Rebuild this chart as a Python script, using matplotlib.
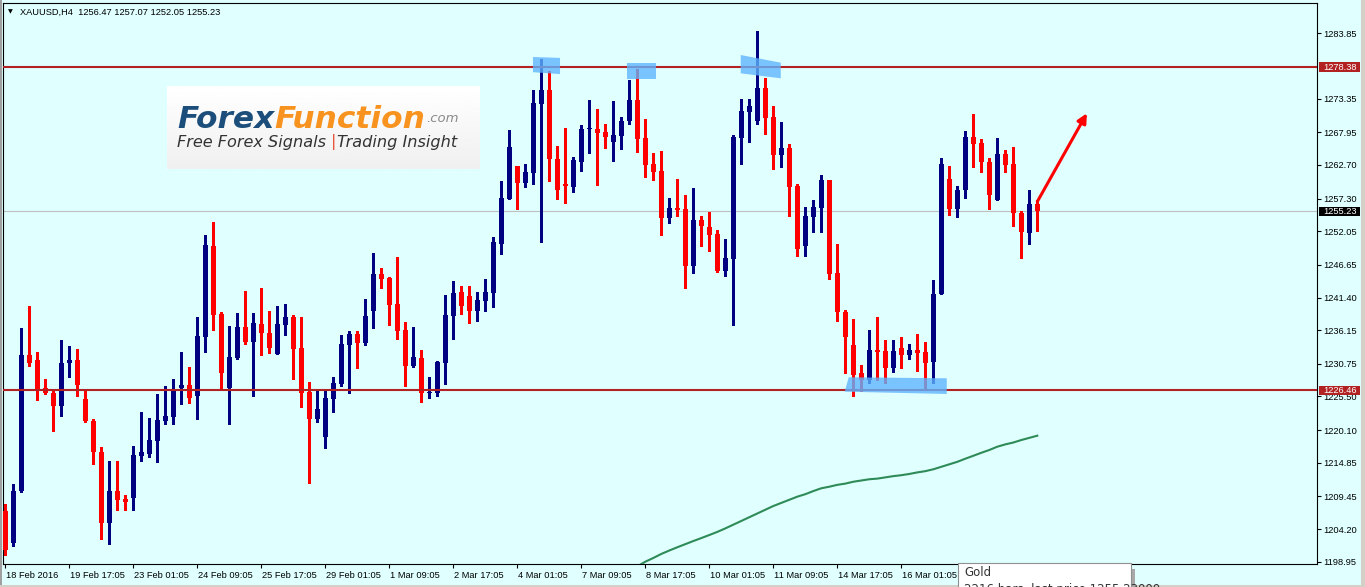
import numpy as np
import matplotlib.pyplot as plt
from matplotlib.patches import Rectangle, Polygon
from matplotlib import transforms as mtransforms

# =====================================================
# Data: XAUUSD H4 bars
# =====================================================
opens = [1207.1, 1202.0, 1210.3, 1232.2, 1231.4, 1226.9, 1226.1, 1223.9, 1230.8, 1231.4,
         1225.1, 1221.6, 1216.6, 1205.1, 1210.3, 1209.1, 1209.2, 1216.0, 1216.3, 1218.4,
         1221.6, 1222.2, 1226.9, 1227.3, 1225.5, 1235.1, 1249.7, 1238.8, 1226.9, 1231.7,
         1236.7, 1234.2, 1237.1, 1235.7, 1232.3, 1237.0, 1238.3, 1233.3, 1226.2, 1221.9,
         1219.0, 1225.1, 1227.5, 1233.8, 1235.5, 1234.1, 1239.2, 1245.2, 1244.5, 1240.4,
         1236.2, 1230.4, 1231.7, 1226.1, 1226.1, 1230.9, 1238.4, 1242.3, 1241.6, 1239.2,
         1240.8, 1242.1, 1250.0, 1257.2, 1262.5, 1259.8, 1261.4, 1272.5, 1274.7, 1263.7,
         1259.6, 1259.2, 1263.2, 1268.4, 1268.5, 1268.0, 1266.4, 1267.4, 1269.8, 1273.1,
         1267.0, 1262.9, 1261.7, 1254.1, 1255.8, 1255.6, 1246.4, 1253.9, 1252.7, 1251.6,
         1245.7, 1247.6, 1267.1, 1271.2, 1269.8, 1275.1, 1270.4, 1264.3, 1265.4, 1259.3,
         1249.7, 1254.4, 1255.8, 1260.3, 1245.3, 1239.1, 1233.8, 1229.3, 1228.2, 1233.0,
         1232.8, 1230.0, 1233.3, 1232.2, 1233.0, 1232.7, 1231.1, 1241.9, 1260.4, 1255.7,
         1258.6, 1267.2, 1266.2, 1263.2, 1257.0, 1264.5, 1262.9, 1255.0, 1251.8, 1256.47]
highs = [1208.2, 1211.4, 1236.5, 1240.0, 1232.7, 1228.3, 1226.4, 1234.6, 1233.6, 1233.1,
         1226.5, 1221.9, 1217.4, 1215.1, 1215.1, 1209.7, 1217.5, 1223.0, 1222.0, 1225.9,
         1227.2, 1228.3, 1232.6, 1230.2, 1238.3, 1251.4, 1253.5, 1239.0, 1236.8, 1238.9,
         1242.4, 1238.9, 1242.9, 1239.2, 1240.0, 1240.4, 1238.6, 1238.3, 1227.8, 1226.5,
         1226.7, 1228.6, 1235.4, 1236.0, 1236.0, 1241.2, 1248.6, 1246.1, 1244.7, 1247.9,
         1237.5, 1236.7, 1233.0, 1228.6, 1231.2, 1241.8, 1244.1, 1243.2, 1243.2, 1242.3,
         1244.4, 1251.1, 1260.1, 1268.3, 1262.5, 1262.9, 1274.7, 1279.7, 1277.8, 1265.7,
         1268.6, 1264.0, 1269.1, 1273.1, 1271.7, 1269.3, 1273.0, 1270.4, 1276.3, 1278.1,
         1270.1, 1264.6, 1264.9, 1257.4, 1260.4, 1257.9, 1259.0, 1254.5, 1255.1, 1252.3,
         1250.8, 1267.5, 1273.3, 1273.3, 1284.2, 1276.7, 1272.2, 1269.6, 1266.1, 1259.6,
         1255.9, 1257.1, 1261.1, 1260.3, 1250.0, 1239.4, 1238.0, 1230.6, 1236.2, 1238.2,
         1234.6, 1234.5, 1235.1, 1234.0, 1235.6, 1234.3, 1244.2, 1263.8, 1262.5, 1259.3,
         1268.2, 1270.9, 1266.9, 1263.8, 1267.0, 1265.1, 1265.6, 1255.3, 1258.7, 1257.07]
lows = [1200.0, 1201.4, 1210.2, 1230.4, 1224.9, 1225.9, 1220.0, 1222.4, 1228.7, 1225.5,
        1221.4, 1214.7, 1202.6, 1201.8, 1207.3, 1207.3, 1207.2, 1215.2, 1215.7, 1214.9,
        1221.0, 1221.1, 1224.3, 1224.5, 1221.8, 1232.7, 1236.1, 1226.9, 1221.1, 1231.5,
        1233.9, 1225.6, 1232.2, 1232.5, 1232.3, 1235.4, 1228.3, 1223.8, 1211.6, 1221.4,
        1217.2, 1223.0, 1227.2, 1226.1, 1230.1, 1233.8, 1236.5, 1242.9, 1237.0, 1234.7,
        1227.2, 1230.2, 1224.6, 1225.3, 1225.6, 1227.5, 1234.7, 1238.8, 1237.3, 1237.6,
        1239.2, 1239.9, 1248.4, 1257.2, 1255.6, 1259.2, 1259.6, 1250.3, 1260.1, 1257.2,
        1256.6, 1258.4, 1261.7, 1264.6, 1259.4, 1265.5, 1263.4, 1265.3, 1269.3, 1264.8,
        1260.8, 1260.2, 1251.5, 1253.4, 1254.5, 1243.0, 1245.4, 1249.7, 1248.9, 1245.5,
        1244.9, 1237.0, 1262.9, 1266.4, 1269.2, 1267.6, 1262.1, 1262.3, 1254.5, 1248.1,
        1248.0, 1252.0, 1252.0, 1244.4, 1237.7, 1229.3, 1225.6, 1226.3, 1227.7, 1228.2,
        1227.6, 1229.5, 1230.0, 1231.6, 1229.6, 1226.6, 1227.7, 1241.9, 1254.7, 1254.4,
        1257.4, 1262.3, 1261.5, 1255.7, 1257.0, 1261.5, 1252.9, 1247.8, 1250.0, 1252.05]
closes = [1200.8, 1210.3, 1232.2, 1230.8, 1226.7, 1226.0, 1223.9, 1230.9, 1231.4, 1227.4,
          1221.6, 1216.5, 1205.1, 1210.3, 1208.9, 1208.6, 1216.1, 1216.5, 1218.5, 1221.7,
          1222.4, 1226.5, 1227.3, 1225.3, 1235.2, 1249.8, 1238.6, 1229.3, 1231.8, 1236.7,
          1234.2, 1237.3, 1235.7, 1233.3, 1237.1, 1238.3, 1233.1, 1226.1, 1221.9, 1223.5,
          1225.2, 1227.7, 1233.9, 1235.5, 1234.1, 1238.4, 1245.2, 1244.4, 1240.2, 1236.0,
          1230.4, 1231.8, 1226.1, 1226.2, 1231.0, 1238.6, 1242.1, 1240.0, 1239.2, 1241.0,
          1242.3, 1250.3, 1257.4, 1265.6, 1259.8, 1261.6, 1272.7, 1274.7, 1263.7, 1258.7,
          1259.3, 1263.5, 1268.5, 1268.5, 1267.9, 1267.2, 1267.5, 1269.8, 1273.1, 1266.9,
          1262.7, 1261.6, 1254.1, 1255.8, 1255.5, 1246.4, 1253.9, 1252.9, 1251.5, 1245.7,
          1247.7, 1267.2, 1271.4, 1272.2, 1275.1, 1270.3, 1264.3, 1265.4, 1259.2, 1249.2,
          1254.5, 1255.9, 1260.3, 1245.2, 1239.0, 1235.1, 1229.0, 1228.2, 1233.0, 1232.7,
          1230.0, 1232.8, 1232.2, 1233.0, 1232.5, 1230.9, 1242.0, 1262.9, 1255.7, 1258.7,
          1267.2, 1266.1, 1263.1, 1257.9, 1264.5, 1262.7, 1254.9, 1252.0, 1256.4, 1255.23]

# moving average (green line), starts at bar 79
ma_start = 79
ma_values = [1198.2, 1198.95, 1199.55, 1200.2, 1200.75, 1201.27, 1201.77, 1202.27, 1202.75,
             1203.24, 1203.74, 1204.3, 1204.9, 1205.5, 1206.1, 1206.7, 1207.3, 1207.9,
             1208.4, 1208.9, 1209.4, 1209.8, 1210.3, 1210.75, 1211.0, 1211.3, 1211.5,
             1211.8, 1212.0, 1212.2, 1212.3, 1212.5, 1212.7, 1212.85, 1213.05, 1213.3,
             1213.5, 1213.8, 1214.2, 1214.6, 1215.0, 1215.5, 1215.97, 1216.45, 1216.9,
             1217.43, 1217.8, 1218.1, 1218.5, 1218.85, 1219.2]

time_tick_bars = [0, 8, 16, 24, 32, 40, 48, 56, 64, 72, 80, 88, 96, 104, 112]
time_tick_labels = ["18 Feb 2016", "19 Feb 17:05", "23 Feb 01:05", "24 Feb 09:05",
                    "25 Feb 17:05", "29 Feb 01:05", "1 Mar 09:05", "2 Mar 17:05",
                    "4 Mar 01:05", "7 Mar 09:05", "8 Mar 17:05", "10 Mar 01:05",
                    "11 Mar 09:05", "14 Mar 17:05", "16 Mar 01:05"]
price_ticks = [1283.85, 1273.35, 1267.95, 1262.70, 1257.30, 1252.05, 1246.65, 1241.40,
               1236.15, 1230.75, 1225.50, 1220.10, 1214.85, 1209.45, 1204.20, 1198.95]

resistance = 1278.38
support = 1226.46
last_price = 1255.23
header = "XAUUSD,H4  1256.47 1257.07 1252.05 1255.23"

# blue marker highlights (bar index, price)
highlights = [
    [(65.96, 1280.04), (69.34, 1279.9), (69.34, 1277.3), (65.96, 1277.6)],
    [(77.7, 1279.08), (81.3, 1279.08), (81.3, 1276.51), (77.7, 1276.51)],
    [(91.93, 1280.36), (96.93, 1279.13), (96.93, 1276.62), (91.93, 1277.42)],
    [(105.43, 1228.58), (117.68, 1228.42), (117.68, 1225.90), (104.93, 1226.27)],
]
arrow_from = (129, 1256.8)
arrow_to = (135.2, 1271.0)

# =====================================================
# Style
# =====================================================
BG = "#E0FFFF"
BULL = "#000080"
BEAR = "#FF0000"
LEVEL = "#B22222"
UI_FONT = "Liberation Sans"
FS = 6.7

W, H = 1365, 587
fig = plt.figure(figsize=(W / 100, H / 100), dpi=100, facecolor=BG)

# plot area in pixels
px_l, px_r, px_t, px_b = 3, 1317, 3, 564
ax = fig.add_axes([px_l / W, (H - px_b) / H, (px_r - px_l) / W, (px_b - px_t) / H])
ax.set_facecolor(BG)

o = np.array(opens)
hi = np.array(highs)
lo = np.array(lows)
c = np.array(closes)
x = np.arange(len(o))
bull = c >= o

# wicks then bodies
for mask, col in [(bull, BULL), (~bull, BEAR)]:
    ax.vlines(x[mask], lo[mask], hi[mask], color=col, lw=0.8, antialiased=False, zorder=2)
    body = np.maximum(np.abs(c[mask] - o[mask]), 0.17)
    ax.bar(x[mask], body, bottom=np.minimum(o[mask], c[mask]), width=0.625,
           color=col, linewidth=0, antialiased=False, zorder=3)

# moving average
ma_x = np.arange(ma_start, ma_start + len(ma_values))
ax.plot(ma_x, ma_values, color="#2E8B57", lw=1.5, zorder=3)

# last price line, levels
ax.axhline(last_price, color="#C0C0C0", lw=0.8, zorder=1)
ax.axhline(resistance, color=LEVEL, lw=1.5, zorder=4)
ax.axhline(support, color=LEVEL, lw=1.5, zorder=4)

for pts in highlights:
    ax.add_patch(Polygon(pts, closed=True, fc="#5FB4FF", ec="none", alpha=0.8, zorder=5))

ax.annotate("", xy=arrow_to, xytext=arrow_from,
            arrowprops=dict(arrowstyle="-|>", color="#FF0000", lw=2.2,
                            mutation_scale=14, shrinkA=0, shrinkB=0), zorder=6)

# axes limits: 8 px per bar, bar 0 centred at x=5.3 px
ax.set_xlim((px_l - 5.3) / 8, (px_r - 5.3) / 8)
ppu = 6.224
ax.set_ylim(1283.85 - (px_b - 33.3) / ppu, 1283.85 + (33.3 - px_t) / ppu)

for s in ax.spines.values():
    s.set_color("black")
    s.set_linewidth(0.8)

ax.yaxis.tick_right()
ax.set_yticks(price_ticks)
ax.set_yticklabels([f"{p:.2f}" for p in price_ticks], fontfamily=UI_FONT, fontsize=FS)
ax.tick_params(axis="y", direction="out", length=3, width=0.8, pad=1.5)

ax.set_xticks(time_tick_bars)
ax.set_xticklabels(time_tick_labels, fontfamily=UI_FONT, fontsize=FS)
ax.tick_params(axis="x", direction="out", length=3, width=0.8, pad=2)
shift = mtransforms.ScaledTranslation(1 / 100, 0, fig.dpi_scale_trans)
for lab in ax.get_xticklabels():
    lab.set_horizontalalignment("left")
    lab.set_transform(lab.get_transform() + shift)

# price labels on the scale
lab_tr = mtransforms.blended_transform_factory(fig.transFigure, ax.transData)
for val, col in [(resistance, LEVEL), (support, LEVEL), (last_price, "black")]:
    ax.add_patch(Rectangle((1319 / W, val - 0.78), 41 / W, 1.56, transform=lab_tr,
                           fc=col, ec="none", clip_on=False, zorder=7))
    ax.text(1323 / W, val, f"{val:.2f}", transform=lab_tr, color="white",
            fontfamily=UI_FONT, fontsize=FS, va="center", ha="left",
            clip_on=False, zorder=8)

# header
fig.text(8 / W, 1 - 12 / H, "\u25BC", fontsize=4.5, va="center", ha="left", color="black")
fig.text(20 / W, 1 - 12 / H, header, fontfamily=UI_FONT, fontsize=FS,
         va="center", ha="left", color="black")

# window borders
fig.add_artist(Rectangle((0, 0), 2 / W, 1, transform=fig.transFigure, fc="#A0A0A0", ec="none"))
fig.add_artist(Rectangle((1361 / W, 0), 4 / W, 1, transform=fig.transFigure, fc="#D4D0C8", ec="none"))
fig.add_artist(Rectangle((0, 0), 1, 2 / H, transform=fig.transFigure, fc="#D4D0C8", ec="none"))

# tooltip (its second line is cut by the window edge, as in the screenshot)
fig.add_artist(Rectangle((1131 / W, 0), 4 / W, (H - 569) / H, transform=fig.transFigure,
                         fc="#A8A8A8", ec="none", zorder=9))
fig.add_artist(Rectangle((958 / W, -0.05), 173 / W, (H - 563) / H + 0.05,
                         transform=fig.transFigure, fc="white", ec="#909090", lw=0.8, zorder=10))
fig.text(964 / W, 1 - 576 / H, "Gold", fontfamily="DejaVu Sans", fontsize=8.5,
         va="baseline", color="#333333", zorder=11)
fig.text(964 / W, 1 - 593 / H, "2216 bars, last price 1255.23000", fontfamily="DejaVu Sans",
         fontsize=8.5, va="baseline", color="#333333", zorder=11)

# logo
lg = fig.add_axes([167 / W, (H - 169) / H, 313 / W, 83 / H])
lg.imshow(np.linspace(1.0, 0.94, 50).reshape(-1, 1), cmap="gray", vmin=0, vmax=1,
          aspect="auto", extent=(0, 1, 0, 1))
lg.set_axis_off()
t1 = lg.text(0.032, 0.50, "Forex", fontsize=22.5, fontweight="bold", fontstyle="italic",
             color="#1C4E7B", va="baseline", ha="left")
t2 = lg.annotate("Function", xy=(1, 0), xycoords=t1, fontsize=22.5, fontweight="bold",
                 fontstyle="italic", color="#F7931E", va="bottom", ha="left")
lg.annotate(".com", xy=(1, 0), xycoords=t2, xytext=(1, 6), textcoords="offset points",
            fontsize=9.5, fontstyle="italic", color="#8A8A8A", va="bottom", ha="left")
s1 = lg.text(0.032, 0.26, "Free Forex Signals ", fontsize=11.6, fontstyle="italic",
             color="#333333", va="baseline", ha="left")
s2 = lg.annotate("|", xy=(1, 0), xycoords=s1, fontsize=11.6, color="#E8553C",
                 va="bottom", ha="left")
lg.annotate("Trading Insight", xy=(1, 0), xycoords=s2, fontsize=11.6, fontstyle="italic",
            color="#333333", va="bottom", ha="left")

fig.savefig("out.png", dpi=100, facecolor=BG)
